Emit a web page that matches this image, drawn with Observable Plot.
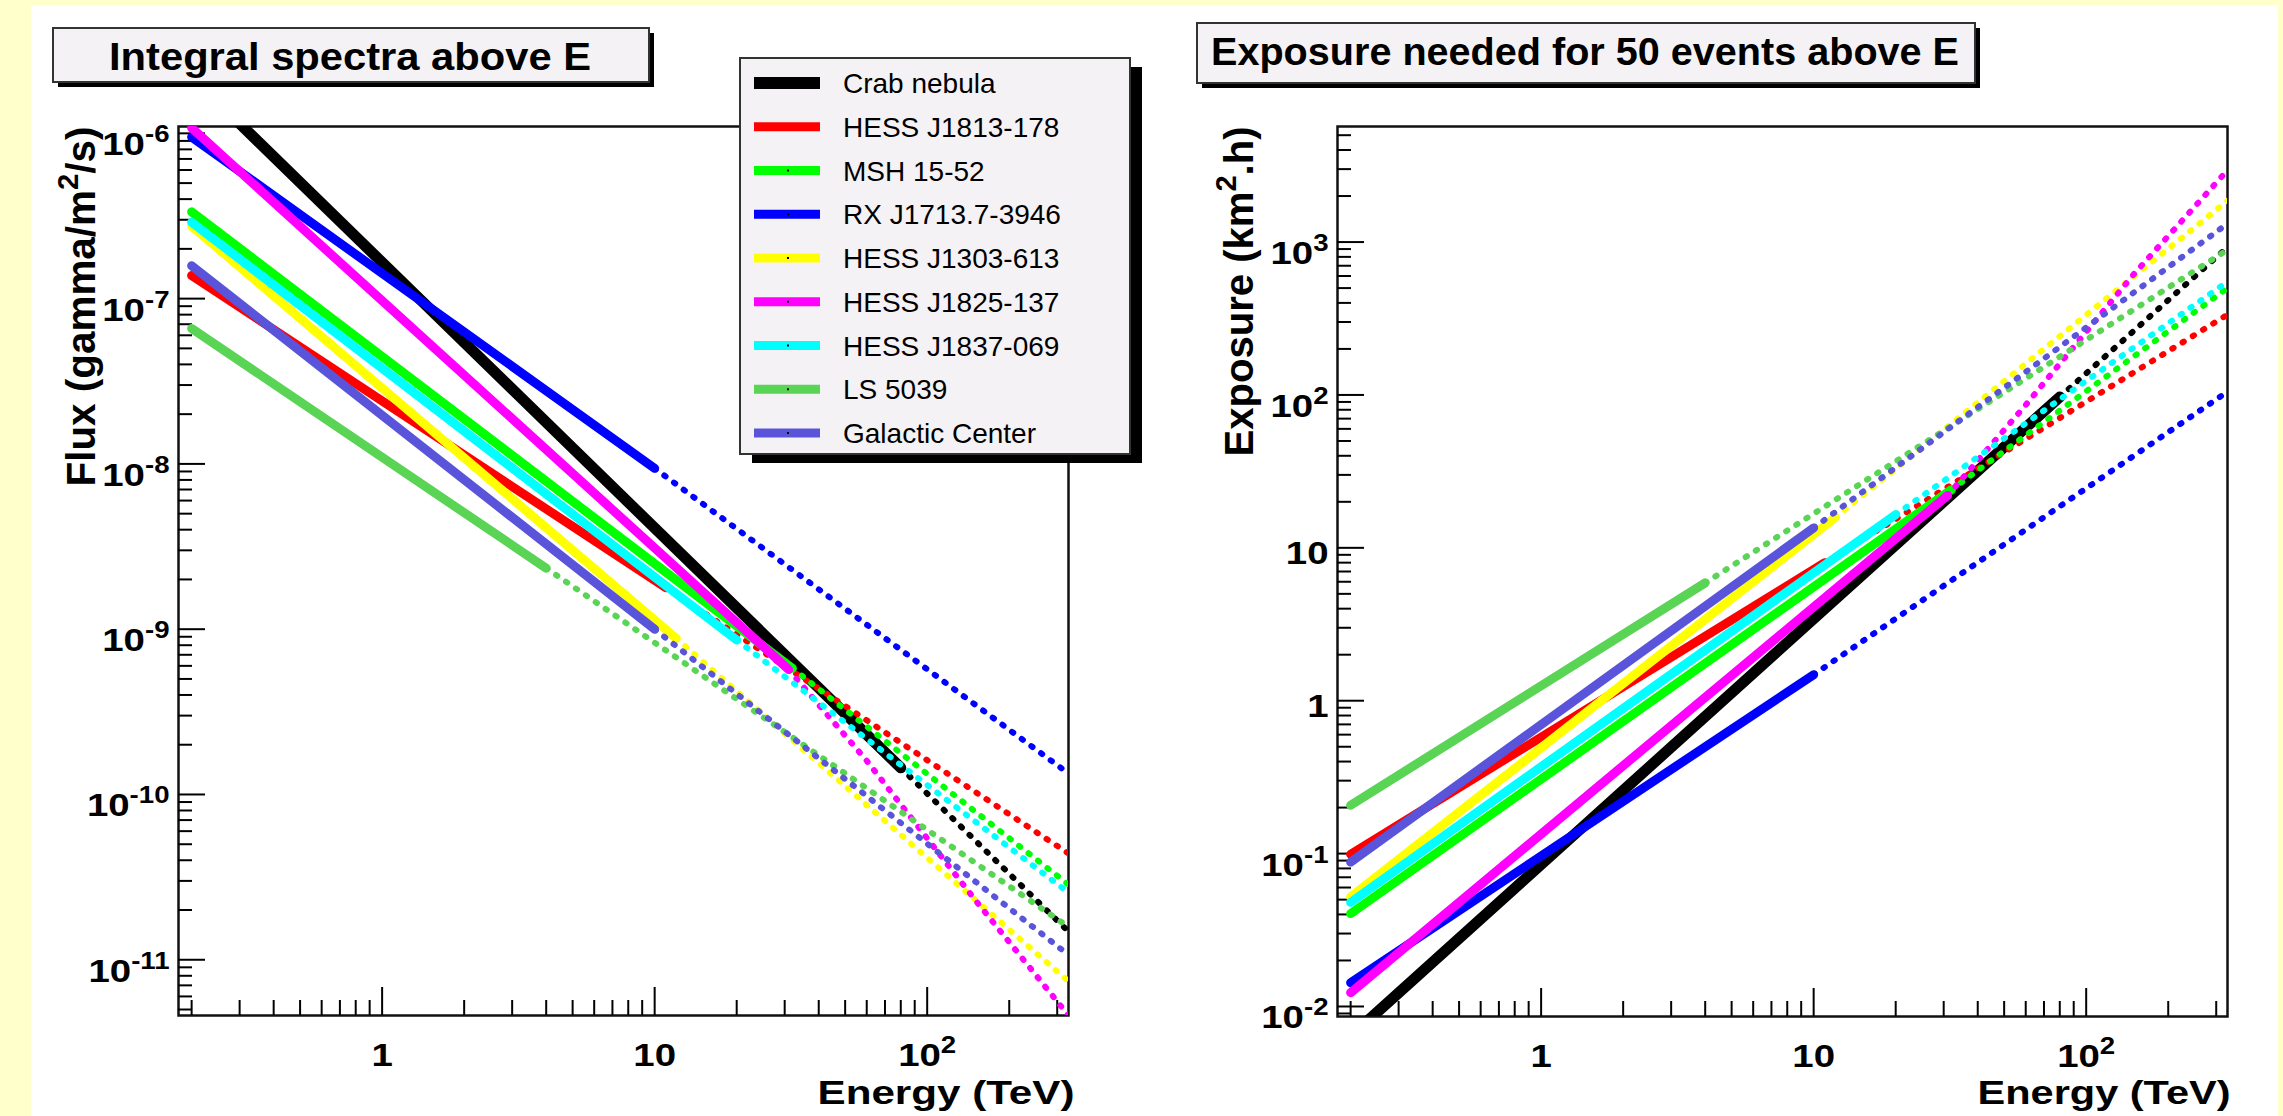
<!DOCTYPE html>
<html><head><meta charset="utf-8">
<script src="https://cdn.jsdelivr.net/npm/d3@7"></script>
<script src="https://cdn.jsdelivr.net/npm/@observablehq/plot@0.6"></script>
<style>
html,body{margin:0;padding:0;background:#ffffcc;}
#root{position:relative;width:2283px;height:1116px;overflow:hidden;background:#ffffcc;font-family:"Liberation Sans",Arial,Helvetica,sans-serif;}
#canvas{position:absolute;left:31px;top:5px;width:2247px;height:1111px;background:#fff;}
#left{position:absolute;left:0;top:0;width:1140px;height:1116px;}
#right{position:absolute;left:1140px;top:0;width:1143px;height:1116px;}
#overlay{position:absolute;left:0;top:0;}
</style></head>
<body><div id="root"><div id="canvas"></div><div id="left"></div><div id="right"></div><svg id="overlay" width="2283" height="1116"></svg></div>
<script>
// ---------------- data ----------------
const sources = ["Crab nebula", "HESS J1813-178", "MSH 15-52", "RX J1713.7-3946", "HESS J1303-613",
                 "HESS J1825-137", "HESS J1837-069", "LS 5039", "Galactic Center"];
const colors = ["#000000", "#ff0000", "#00ff00", "#0000ff", "#ffff00", "#ff00ff", "#00ffff", "#59d454", "#5954d9"];
// highest measured energy (TeV): solid up to here, dotted extrapolation beyond
const measuredMax = [80, 11, 32, 10, 12, 31, 20, 4, 10];

// Integral flux above E (gamma/m^2/s): [E (TeV), flux]
const fluxCrab   = [[0.2, 2.2e-6], [80, 1.45e-10], [330, 1.48e-11]];
const fluxJ1813  = [[0.2, 1.38e-7], [11, 1.78e-9], [330, 4.4e-11]];
const fluxMSH    = [[0.2, 3.35e-7], [32, 5.8e-10], [330, 2.85e-11]];
const fluxRXJ    = [[0.2, 9.5e-7], [10, 9.4e-9], [330, 1.34e-10]];
const fluxJ1303  = [[0.2, 2.75e-7], [12, 8.8e-10], [330, 7.4e-12]];
const fluxJ1825  = [[0.2, 1.08e-6], [31, 5.7e-10], [60, 1.6e-10], [150, 2.3e-11], [330, 4.6e-12]];
const fluxJ1837  = [[0.2, 2.9e-7], [20, 8.6e-10], [330, 2.55e-11]];
const fluxLS5039 = [[0.2, 6.6e-8], [4, 2.34e-9], [330, 1.58e-11]];
const fluxGC     = [[0.2, 1.58e-7], [10, 1.0e-9], [330, 1.07e-11]];

// Exposure needed for 50 events above E (km^2.h): [E (TeV), exposure]
const expoCrab   = [[0.2, 6.4e-3], [80, 97], [330, 925]];
const expoJ1813  = [[0.2, 0.099], [11, 8.0], [330, 335]];
const expoMSH    = [[0.2, 0.0405], [32, 24], [330, 500]];
const expoRXJ    = [[0.2, 0.0143], [10, 1.48], [330, 105]];
const expoJ1303  = [[0.2, 0.052], [12, 15.8], [330, 1860]];
const expoJ1825  = [[0.2, 0.0123], [31, 22], [60, 86], [150, 620], [330, 2950]];
const expoJ1837  = [[0.2, 0.048], [20, 16.5], [330, 550]];
const expoLS5039 = [[0.2, 0.207], [4, 5.9], [330, 890]];
const expoGC     = [[0.2, 0.088], [10, 13.5], [330, 1320]];

const fluxSeries = [fluxCrab, fluxJ1813, fluxMSH, fluxRXJ, fluxJ1303, fluxJ1825, fluxJ1837, fluxLS5039, fluxGC];
const expoSeries = [expoCrab, expoJ1813, expoMSH, expoRXJ, expoJ1303, expoJ1825, expoJ1837, expoLS5039, expoGC];

// ticks
const energyTicks = [1, 10, 100];
const energyTickLabels = ["1", "10", "10^2"];
const fluxTicks = [1e-11, 1e-10, 1e-9, 1e-8, 1e-7, 1e-6];
const fluxTickLabels = ["10^-11", "10^-10", "10^-9", "10^-8", "10^-7", "10^-6"];
const expoTicks = [1e-2, 1e-1, 1, 10, 100, 1000];
const expoTickLabels = ["10^-2", "10^-1", "1", "10", "10^2", "10^3"];

const energyDomain = [0.179, 330];
const fluxDomain = [4.6e-12, 1.1e-6];
const expoDomain = [8.6e-3, 5.7e3];

function minorTicks([lo, hi]) {
  const out = [];
  for (let e = Math.floor(Math.log10(lo)); e <= Math.ceil(Math.log10(hi)); e++)
    for (let k = 2; k <= 9; k++) { const v = k * Math.pow(10, e); if (v >= lo && v <= hi) out.push(v); }
  return out;
}

const FONT = "Liberation Sans, Arial, Helvetica, sans-serif";

function panel(o) {
  const {width, height, ml, mr, mt, mb, yDomain, series, yTicks, yLabels, yTitle, yTitleDx, xTitleDx, xTitleDy} = o;
  const plotW = width - ml - mr, plotH = height - mt - mb;
  const rows = [];
  series.forEach((pts, i) => {
    pts.forEach(([E, v]) => {
      if (E <= measuredMax[i]) rows.push({i, seg: "solid", E, v});
      if (E >= measuredMax[i]) rows.push({i, seg: "dotted", E, v});
    });
  });
  const marks = [
    Plot.frame({stroke: "#111", strokeWidth: 2.5}),
    Plot.tickX(energyTicks, {x: d => d, insetTop: plotH - 28, stroke: "#000", strokeWidth: 2}),
    Plot.tickX(minorTicks(energyDomain), {x: d => d, insetTop: plotH - 15, stroke: "#000", strokeWidth: 2}),
    Plot.tickY(yTicks, {y: d => d, insetRight: plotW - 27, stroke: "#000", strokeWidth: 2}),
    Plot.tickY(minorTicks(yDomain), {y: d => d, insetRight: plotW - 14, stroke: "#000", strokeWidth: 2})
  ];
  sources.forEach((s, i) => {
    marks.push(Plot.line(rows.filter(r => r.i === i && r.seg === "solid"),
      {x: "E", y: "v", stroke: colors[i], strokeWidth: i === 0 ? 11 : 9, clip: true}));
    marks.push(Plot.line(rows.filter(r => r.i === i && r.seg === "dotted"),
      {x: "E", y: "v", stroke: colors[i], strokeWidth: 6, strokeDasharray: "1.5,10.5", strokeLinecap: "round", clip: true}));
  });
  const idx = yTicks.map((d, i) => i);
  const expIdx = idx.filter(i => yLabels[i].includes("^"));
  const plainIdx = idx.filter(i => !yLabels[i].includes("^"));
  marks.push(
    Plot.text(energyTicks, {x: d => d, text: (d, i) => energyTickLabels[i], frameAnchor: "bottom", lineAnchor: "bottom",
      dy: 50, fontSize: 32, fontWeight: "bold", fill: "#000"}),
    Plot.text(expIdx, {y: i => yTicks[i], text: i => yLabels[i], frameAnchor: "left", textAnchor: "end", lineAnchor: "bottom",
      dx: -9, dy: 22, fontSize: 32, fontWeight: "bold", fill: "#000"}),
    Plot.text(plainIdx, {y: i => yTicks[i], text: i => yLabels[i], frameAnchor: "left", textAnchor: "end", lineAnchor: "bottom",
      dx: -9, dy: 16, fontSize: 32, fontWeight: "bold", fill: "#000"}),
    Plot.text([yTitle], {text: d => d, frameAnchor: "top-left", rotate: -90, textAnchor: "end", lineAnchor: "bottom",
      dx: yTitleDx, dy: 0, fontSize: 40, fontWeight: "bold", fill: "#000"}),
    Plot.text(["Energy (TeV)"], {text: d => d, frameAnchor: "bottom-right", textAnchor: "end", lineAnchor: "bottom",
      dx: xTitleDx, dy: xTitleDy, fontSize: 34, fontWeight: "bold", fill: "#000"})
  );
  return Plot.plot({
    width, height, marginLeft: ml, marginRight: mr, marginTop: mt, marginBottom: mb,
    x: {type: "log", domain: energyDomain, axis: null},
    y: {type: "log", domain: yDomain, axis: null},
    style: {background: "transparent", overflow: "visible", fontFamily: FONT},
    marks
  });
}

const NS = "http://www.w3.org/2000/svg";
function finishText(svg, lengths) {
  svg.querySelectorAll("text").forEach(t => {
    const s = t.textContent;
    const fs = parseFloat(getComputedStyle(t).fontSize);
    const m = s.match(/^(.*?)\^(-?\d+)(.*)$/);
    if (m) {
      t.textContent = "";
      const add = (txt, attrs) => {
        const ts = document.createElementNS(NS, "tspan");
        ts.textContent = txt;
        for (const k in attrs) ts.setAttribute(k, attrs[k]);
        t.appendChild(ts);
      };
      const raise = Math.round(fs * 0.42);
      add(m[1], {});
      add(m[2], {"font-size": Math.round(fs * 0.72), dy: -raise});
      if (m[3]) add(m[3], {dy: raise});
    }
    const w = t.getComputedTextLength();
    const target = lengths[s] !== undefined ? lengths[s] : w * 1.2;
    t.setAttribute("textLength", target);
    t.setAttribute("lengthAdjust", "spacingAndGlyphs");
  });
}

const left = panel({
  width: 1140, height: 1116, ml: 178, mr: 72, mt: 126, mb: 101,
  yDomain: fluxDomain, series: fluxSeries, yTicks: fluxTicks, yLabels: fluxTickLabels,
  yTitle: "Flux (gamma/m^2/s)", yTitleDx: -84, xTitleDx: 6, xTitleDy: 88
});
document.getElementById("left").appendChild(left);
finishText(left, {"Flux (gamma/m^2/s)": 360, "Energy (TeV)": 257});

const right = panel({
  width: 1143, height: 1116, ml: 197, mr: 56, mt: 126, mb: 100,
  yDomain: expoDomain, series: expoSeries, yTicks: expoTicks, yLabels: expoTickLabels,
  yTitle: "Exposure (km^2.h)", yTitleDx: -85, xTitleDx: 3, xTitleDy: 87
});
document.getElementById("right").appendChild(right);
finishText(right, {"Exposure (km^2.h)": 330, "Energy (TeV)": 253});

// ---------------- titles & legend ----------------
const ov = d3.select("#overlay").style("font-family", FONT);
function box(x, y, w, h, sx, sy) {
  ov.append("rect").attr("x", x + sx).attr("y", y + sy).attr("width", w).attr("height", h).attr("fill", "#000");
  ov.append("rect").attr("x", x).attr("y", y).attr("width", w).attr("height", h)
    .attr("fill", "#f5f2f5").attr("stroke", "#333").attr("stroke-width", 2);
}
function titleBox(x, y, w, h, text, tx, ty, tlen) {
  box(x, y, w, h, 5, 5);
  ov.append("text").attr("x", tx).attr("y", ty).attr("font-size", 39).attr("font-weight", "bold")
    .attr("textLength", tlen).attr("lengthAdjust", "spacingAndGlyphs").text(text);
}
titleBox(53, 28, 596, 54, "Integral spectra above E", 109, 70, 482);
titleBox(1197, 23, 778, 60, "Exposure needed for 50 events above E", 1211, 65, 748);

// legend
box(740, 58, 390, 396, 12, 9);
sources.forEach((s, i) => {
  const cy = 83 + 43.75 * i;
  const th = i === 0 ? 12 : 9;
  ov.append("rect").attr("x", 754).attr("y", cy - th / 2).attr("width", 66).attr("height", th).attr("fill", colors[i]);
  if (i >= 2) ov.append("rect").attr("x", 787).attr("y", cy - 1).attr("width", 2).attr("height", 2).attr("fill", "#000");
  ov.append("text").attr("x", 843).attr("y", cy + 10).attr("font-size", 28).attr("fill", "#000").text(s);
});
</script></body></html>
